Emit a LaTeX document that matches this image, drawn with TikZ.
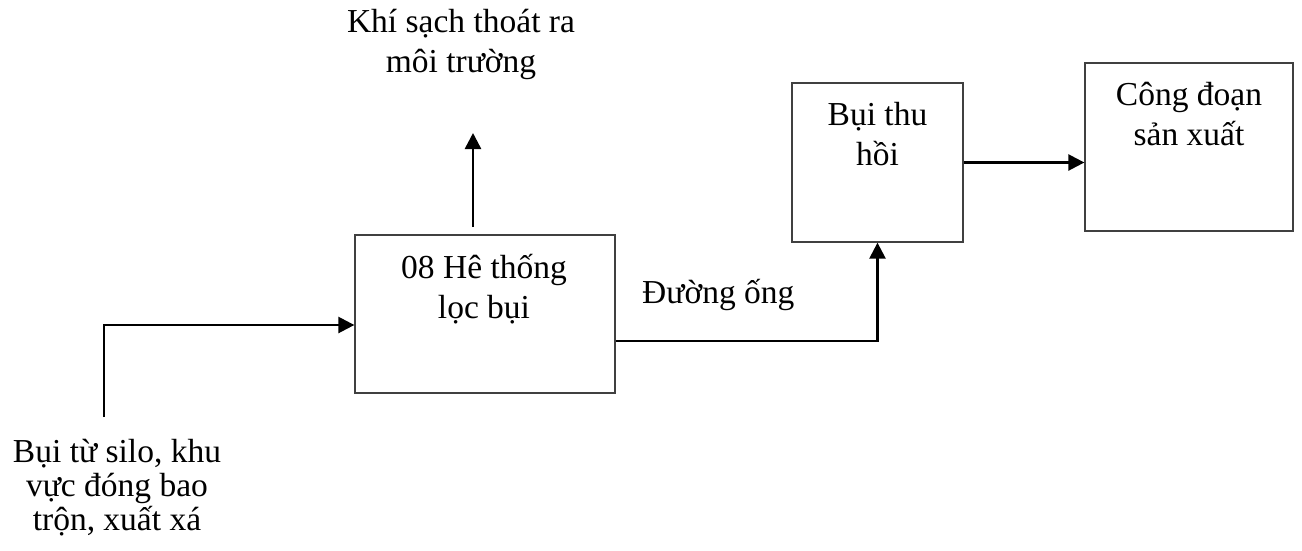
\documentclass[tikz,border=0pt]{standalone}
\usepackage{fontspec}
\setmainfont{Liberation Serif}
\usetikzlibrary{arrows.meta}
\begin{document}
\begin{tikzpicture}[x=1pt,y=-1pt,
  stage/.style={draw=black!75, line width=1.3pt, inner sep=0pt, minimum width=#1},
  txt/.style={font=\fontsize{33.5}{40}\selectfont, align=center, inner sep=0pt},
  flow/.style={line width=2.5pt, -{Triangle[length=16pt,width=16pt]}}
]
\useasboundingbox (0,0) rectangle (1302,550);

% process boxes
\node[stage=260pt, minimum height=158pt] (A) at (485,314) {};
\node[stage=171pt, minimum height=159pt] (B) at (877.5,162.5) {};
\node[stage=208pt, minimum height=168pt] (C) at (1189,147) {};

% box captions (anchored on the baseline of the last line)
\node[txt, anchor=base] (tA) at (484,318) {08 Hê thống\\lọc bụi};
\node[txt, anchor=base] (tB) at (877.5,165) {Bụi thu\\hồi};
\node[txt, anchor=base] (tC) at (1189,145) {Công đoạn\\sản xuất};

% free labels
\node[txt, anchor=base] (air) at (461,72) {Khí sạch thoát ra\\môi trường};
\node[txt, anchor=base, font=\fontsize{33.5}{34}\selectfont] (dust) at (117,530) {Bụi từ silo, khu\\vực đóng bao\\trộn, xuất xá};
\node[txt, anchor=base west] (pipe) at (642,303) {Đường ống};

% connectors
\coordinate (src) at (104,417);
\coordinate (ventLow) at (473,227);
\coordinate (ventTop) at (473,133);
\draw[flow] (src) |- ([yshift=-11pt]A.west);
\draw[flow] (ventLow) -- (ventTop);
\draw[flow] ([yshift=-27pt]A.east) -| (B.south);
\draw[flow] (B.east) -- (C.west |- B.east);
\end{tikzpicture}
\end{document}
